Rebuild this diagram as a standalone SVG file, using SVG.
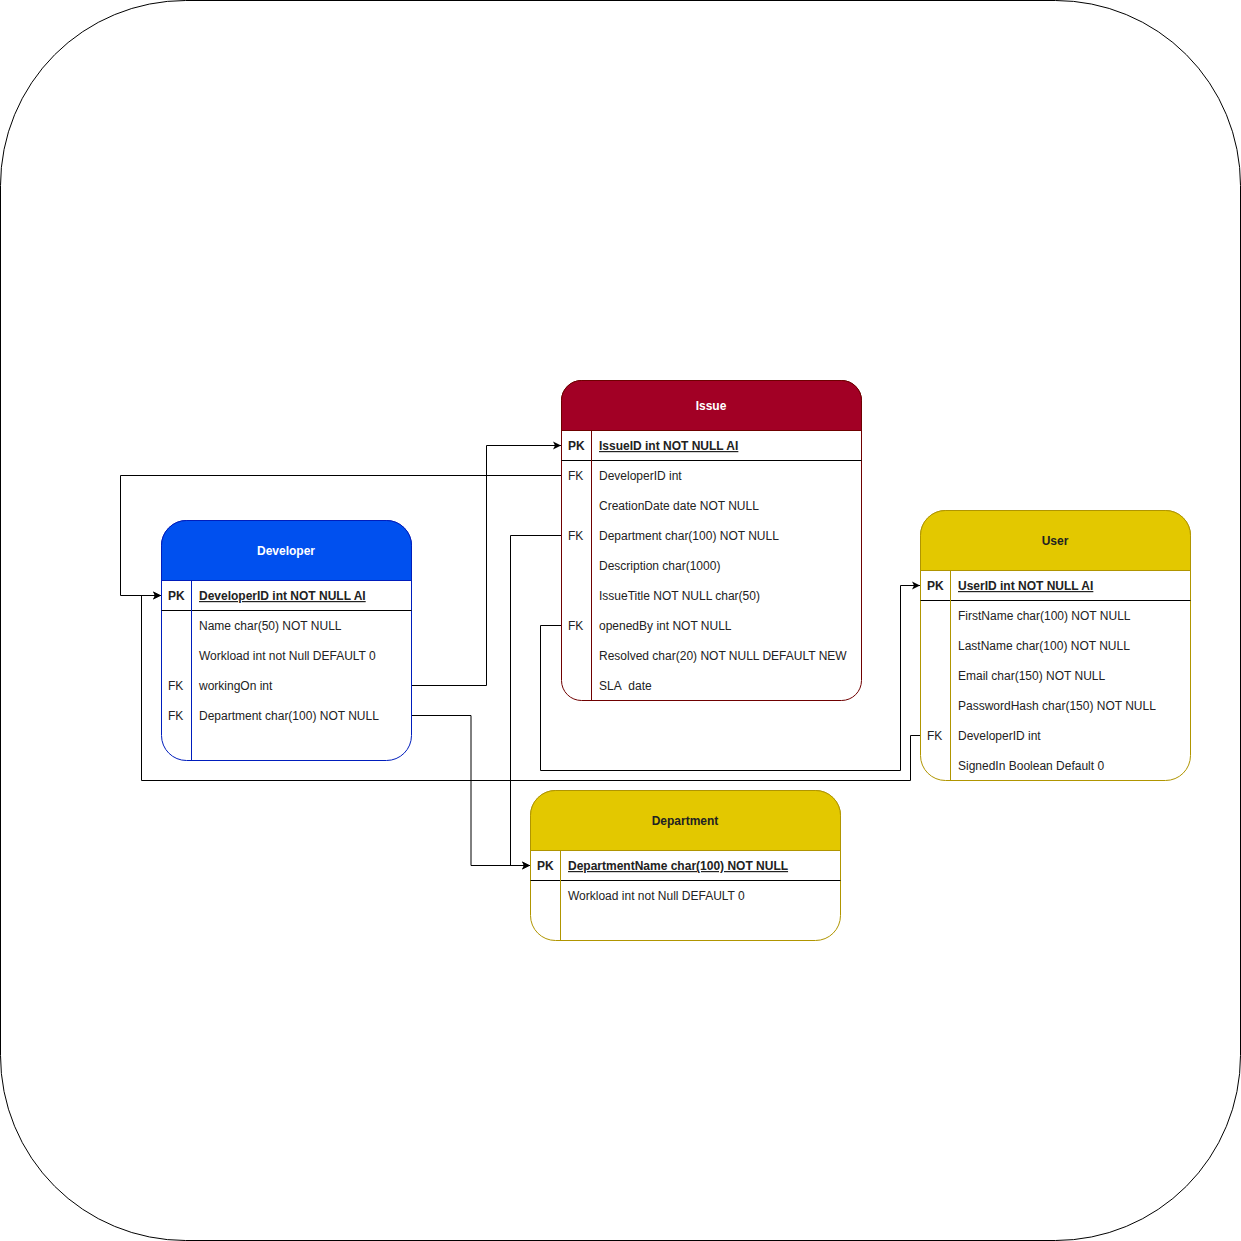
<svg xmlns="http://www.w3.org/2000/svg" width="1241" height="1241" viewBox="0 0 1241 1241">
<defs>
<style>
text{font-family:"Liberation Sans",Arial,sans-serif;font-size:12px;fill:#222}
.t{font-weight:bold;text-anchor:middle}
.w{fill:#fff}
.pk{font-weight:bold;text-decoration:underline}
.c{fill:none;stroke:#000;stroke-width:1}
.sep{stroke:#000;stroke-width:1}
</style>
<marker id="a" markerWidth="9" markerHeight="9" refX="8" refY="4.5" orient="auto" markerUnits="userSpaceOnUse">
<path d="M0,0.5 L8,4.5 L0,8.5 L2,4.5 Z" fill="#000"/>
</marker>
</defs>
<rect x="0.5" y="0.5" width="1240" height="1240" rx="185" ry="185" fill="#fff" stroke="#000"/>

<g id="connectors">
<path class="c" d="M561 475.5 H120.5 V595.5 H161" marker-end="url(#a)"/>
<path class="c" d="M411 685.5 H486.5 V445.5 H561" marker-end="url(#a)"/>
<path class="c" d="M411 715.5 H471 V865.5 H530" marker-end="url(#a)"/>
<path class="c" d="M561 535.5 H510.5 V865.5 H530" marker-end="url(#a)"/>
<path class="c" d="M561 625.5 H540.5 V770.5 H900.5 V585.5 H920" marker-end="url(#a)"/>
<path class="c" d="M920 735.5 H910.5 V780.5 H141.5 V595.5 H161" marker-end="url(#a)"/>
</g>

<g id="developer">
<rect x="161.5" y="520.5" width="250" height="240" rx="25" fill="#fff" stroke="#001DBC"/>
<path d="M161.5 580.5 V545.5 A25 25 0 0 1 186.5 520.5 H386.5 A25 25 0 0 1 411.5 545.5 V580.5 Z" fill="#0050EF" stroke="#001DBC"/>
<line class="sep" x1="161.5" y1="610.5" x2="411.5" y2="610.5"/>
<line x1="191.5" y1="580.5" x2="191.5" y2="760.5" stroke="#001DBC"/>
<text class="t w" x="286" y="555">Developer</text>
<text x="168" y="600" style="font-weight:bold">PK</text>
<text class="pk" x="199" y="600">DeveloperID int NOT NULL AI</text>
<text x="199" y="630">Name char(50) NOT NULL</text>
<text x="199" y="660">Workload int not Null DEFAULT 0</text>
<text x="168" y="690">FK</text>
<text x="199" y="690">workingOn int</text>
<text x="168" y="720">FK</text>
<text x="199" y="720">Department char(100) NOT NULL</text>
</g>

<g id="issue">
<rect x="561.5" y="380.5" width="300" height="320" rx="20" fill="#fff" stroke="#6F0000"/>
<path d="M561.5 430.5 V400.5 A20 20 0 0 1 581.5 380.5 H841.5 A20 20 0 0 1 861.5 400.5 V430.5 Z" fill="#A20025" stroke="#6F0000"/>
<line class="sep" x1="561.5" y1="460.5" x2="861.5" y2="460.5"/>
<line x1="591.5" y1="430.5" x2="591.5" y2="700.5" stroke="#6F0000"/>
<text class="t w" x="711" y="410">Issue</text>
<text x="568" y="450" style="font-weight:bold">PK</text>
<text class="pk" x="599" y="450">IssueID int NOT NULL AI</text>
<text x="568" y="480">FK</text>
<text x="599" y="480">DeveloperID int</text>
<text x="599" y="510">CreationDate date NOT NULL</text>
<text x="568" y="540">FK</text>
<text x="599" y="540">Department char(100) NOT NULL</text>
<text x="599" y="570">Description char(1000)</text>
<text x="599" y="600">IssueTitle NOT NULL char(50)</text>
<text x="568" y="630">FK</text>
<text x="599" y="630">openedBy int NOT NULL</text>
<text x="599" y="660">Resolved char(20) NOT NULL DEFAULT NEW</text>
<text x="599" y="690">SLA&#160; date</text>
</g>

<g id="user">
<rect x="920.5" y="510.5" width="270" height="270" rx="25" fill="#fff" stroke="#B09500"/>
<path d="M920.5 570.5 V535.5 A25 25 0 0 1 945.5 510.5 H1165.5 A25 25 0 0 1 1190.5 535.5 V570.5 Z" fill="#E3C800" stroke="#B09500"/>
<line class="sep" x1="920.5" y1="600.5" x2="1190.5" y2="600.5"/>
<line x1="950.5" y1="570.5" x2="950.5" y2="780.5" stroke="#B09500"/>
<text class="t" x="1055" y="545">User</text>
<text x="927" y="590" style="font-weight:bold">PK</text>
<text class="pk" x="958" y="590">UserID int NOT NULL AI</text>
<text x="958" y="620">FirstName char(100) NOT NULL</text>
<text x="958" y="650">LastName char(100) NOT NULL</text>
<text x="958" y="680">Email char(150) NOT NULL</text>
<text x="958" y="710">PasswordHash char(150) NOT NULL</text>
<text x="927" y="740">FK</text>
<text x="958" y="740">DeveloperID int</text>
<text x="958" y="770">SignedIn Boolean Default 0</text>
</g>

<g id="department">
<rect x="530.5" y="790.5" width="310" height="150" rx="25" fill="#fff" stroke="#B09500"/>
<path d="M530.5 850.5 V815.5 A25 25 0 0 1 555.5 790.5 H815.5 A25 25 0 0 1 840.5 815.5 V850.5 Z" fill="#E3C800" stroke="#B09500"/>
<line class="sep" x1="530.5" y1="880.5" x2="840.5" y2="880.5"/>
<line x1="560.5" y1="850.5" x2="560.5" y2="940.5" stroke="#B09500"/>
<text class="t" x="685" y="825">Department</text>
<text x="537" y="870" style="font-weight:bold">PK</text>
<text class="pk" x="568" y="870">DepartmentName char(100) NOT NULL</text>
<text x="568" y="900">Workload int not Null DEFAULT 0</text>
</g>
</svg>
